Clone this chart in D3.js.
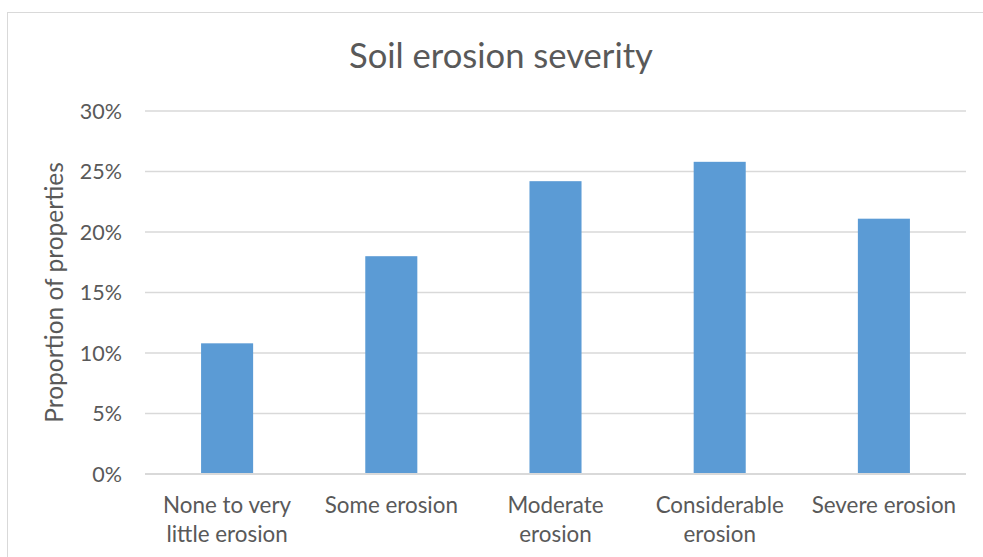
<!DOCTYPE html>
<html>
<head>
<meta charset="utf-8">
<script src="https://cdn.jsdelivr.net/npm/d3@7"></script>
<style>
  html, body { margin: 0; padding: 0; background: #fff; }
  svg { display: block; font-family: Lato, "Open Sans", sans-serif; }
</style>
</head>
<body>
<script>
const categories = [["None to very", "little erosion"], ["Some erosion"], ["Moderate", "erosion"], ["Considerable", "erosion"], ["Severe erosion"]];
const categoryKeys = ["None to very little erosion", "Some erosion", "Moderate erosion", "Considerable erosion", "Severe erosion"];
const values = [0.108, 0.180, 0.242, 0.258, 0.211];
const yTicks = [0, 0.05, 0.10, 0.15, 0.20, 0.25, 0.30];
const titleText = "Soil erosion severity";
const yTitle = "Proportion of properties";

const W = 983, H = 557;
const plot = { left: 145, right: 966, top: 111, bottom: 474 };
const textColor = "#595959";
const gridColor = "#d9d9d9";
const barColor = "#5b9bd5";

const svg = d3.select("body").append("svg").attr("width", W).attr("height", H);
svg.append("rect").attr("width", W).attr("height", H).attr("fill", "#fff");
// chart border
svg.append("rect").attr("x", 7.5).attr("y", 12.5).attr("width", W + 20).attr("height", H + 20)
  .attr("fill", "none").attr("stroke", gridColor).attr("stroke-width", 1);

const x = d3.scaleBand().domain(categoryKeys).range([plot.left, plot.right])
  .paddingInner(0.683).paddingOuter(0.683 / 2);
const y = d3.scaleLinear().domain([0, 0.30]).range([plot.bottom, plot.top]);

// gridlines
svg.append("g").selectAll("line").data(yTicks).join("line")
  .attr("x1", plot.left).attr("x2", plot.right)
  .attr("y1", d => y(d)).attr("y2", d => y(d))
  .attr("stroke", gridColor).attr("stroke-width", d => d === 0 ? 2 : 1.5);

// bars
svg.append("g").selectAll("rect").data(values).join("rect")
  .attr("x", (d, i) => x(categoryKeys[i]))
  .attr("width", x.bandwidth())
  .attr("y", d => y(d))
  .attr("height", d => y(0) - y(d))
  .attr("fill", barColor);

// zero axis on top
svg.append("line").attr("x1", plot.left).attr("x2", plot.right)
  .attr("y1", y(0)).attr("y2", y(0)).attr("stroke", gridColor).attr("stroke-width", 2);

// y tick labels
const fmt = d3.format(".0%");
svg.append("g").selectAll("text").data(yTicks).join("text")
  .attr("x", 122).attr("y", d => y(d)).attr("dy", "0.35em")
  .attr("text-anchor", "end").attr("fill", textColor)
  .attr("font-size", 21.5).text(d => fmt(d));

// category labels
const cl = svg.append("g").selectAll("text").data(categories).join("text")
  .attr("text-anchor", "middle").attr("fill", textColor).attr("font-size", 22.4)
  .attr("x", (d, i) => x(categoryKeys[i]) + x.bandwidth() / 2)
  .attr("y", 513);
cl.selectAll("tspan").data(d => d).join("tspan")
  .attr("x", function() { return this.parentNode.getAttribute("x"); })
  .attr("dy", (d, i) => i === 0 ? 0 : 29)
  .text(d => d);

// y axis title
svg.append("text")
  .attr("transform", `translate(63, ${(plot.top + plot.bottom) / 2}) rotate(-90)`)
  .attr("text-anchor", "middle").attr("fill", textColor).attr("font-size", 24.5)
  .text(yTitle);

// title
svg.append("text").attr("x", 501).attr("y", 68)
  .attr("text-anchor", "middle").attr("fill", textColor).attr("font-size", 34.6)
  .text(titleText);
</script>
</body>
</html>
